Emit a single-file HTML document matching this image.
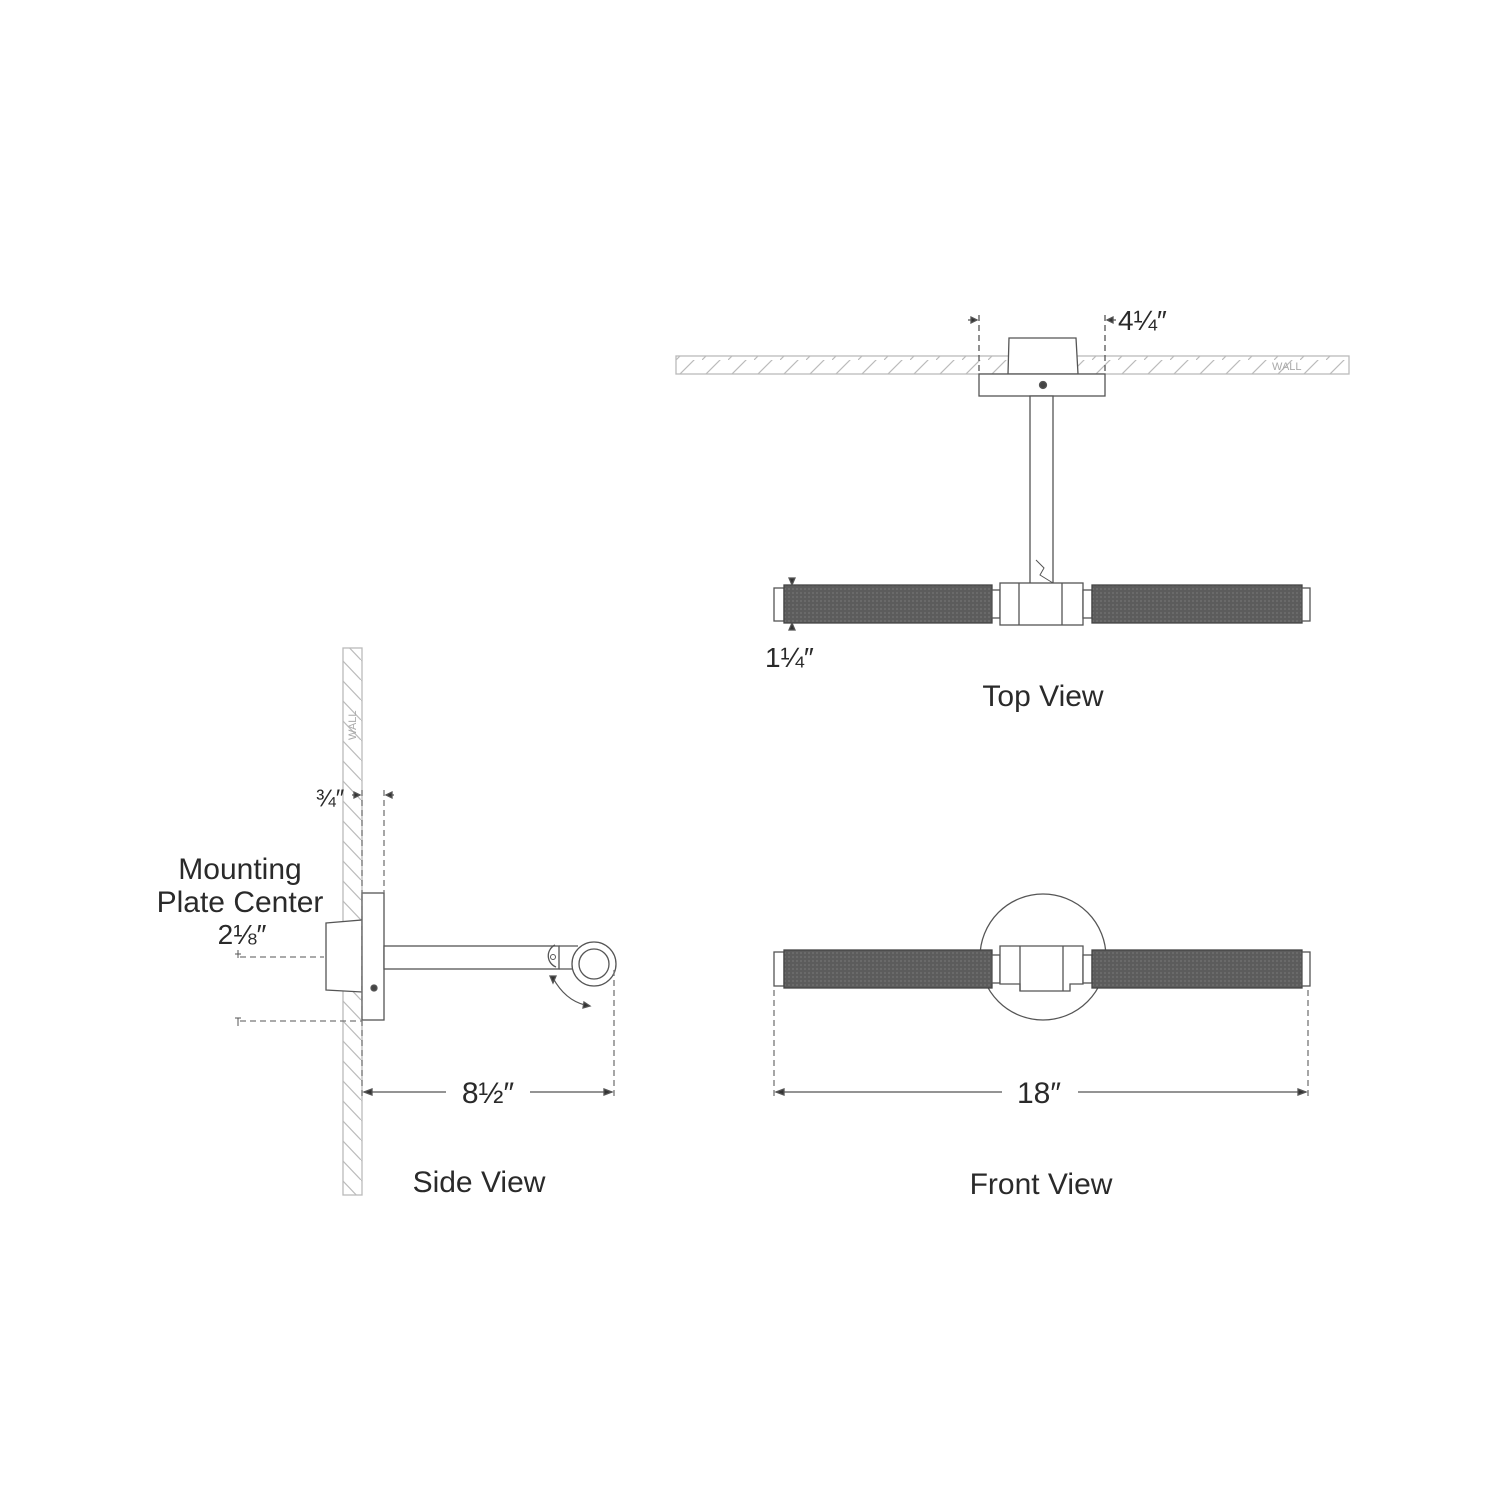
<!DOCTYPE html>
<html><head><meta charset="utf-8"><style>html,body{margin:0;background:#fff}svg{display:block}text{font-family:"Liberation Sans",sans-serif;fill:#2a2a2a}</style></head><body>
<svg width="1500" height="1500" viewBox="0 0 1500 1500" xmlns="http://www.w3.org/2000/svg">
<defs>
<pattern id="h1" width="26" height="18" patternUnits="userSpaceOnUse"><path d="M-2 20 L20 -2" stroke="#bbb" stroke-width="1.2"/></pattern>
<pattern id="h2" width="19" height="20" patternUnits="userSpaceOnUse"><path d="M0 0 L19 20" stroke="#bbb" stroke-width="1.2"/></pattern>
<pattern id="kn" width="4" height="4" patternUnits="userSpaceOnUse"><rect width="4" height="4" fill="#5c5c5c"/><rect width="2" height="2" fill="#6a6a6a"/></pattern>
</defs>
<g stroke="#555" stroke-width="1.3" fill="none">
<!-- TOP VIEW -->
<rect x="676" y="356" width="673" height="18" fill="url(#h1)" stroke="#bbb"/>
<path d="M1008 374 L1009 338 L1076 338 L1078 374 Z" fill="#fff"/>
<rect x="979" y="374" width="126" height="22" fill="#fff"/>
<circle cx="1043" cy="385" r="3.5" fill="#444"/>
<rect x="1030" y="396" width="23" height="189" fill="#fff"/>
<path d="M1036 560 L1044 568 L1040 575 L1053 583" stroke-width="1"/>
<g stroke-dasharray="6,4"><line x1="979" y1="315" x2="979" y2="374"/><line x1="1105" y1="315" x2="1105" y2="374"/></g>
<path d="M968 320 L977 320 M1107 320 L1116 320" />
<path d="M977 320 L971 317 L971 323Z M1107 320 L1113 317 L1113 323Z" fill="#333"/>
<rect x="774" y="588" width="10" height="33" fill="#fff"/>
<rect x="784" y="585" width="208" height="38" fill="url(#kn)" stroke="#444"/>
<rect x="992" y="590" width="8" height="28" fill="#fff"/>
<rect x="1000" y="583" width="83" height="42" fill="#fff"/>
<line x1="1019" y1="583" x2="1019" y2="625"/><line x1="1062" y1="583" x2="1062" y2="625"/>
<rect x="1083" y="590" width="9" height="28" fill="#fff"/>
<rect x="1092" y="585" width="210" height="38" fill="url(#kn)" stroke="#444"/>
<rect x="1302" y="588" width="8" height="33" fill="#fff"/>
<path d="M789 578 L792 585 L795 578Z M789 630 L792 623 L795 630Z" fill="#333"/>
<!-- FRONT VIEW -->
<circle cx="1043" cy="957" r="63" fill="#fff"/>
<rect x="774" y="952" width="10" height="34" fill="#fff"/>
<rect x="784" y="950" width="208" height="38" fill="url(#kn)" stroke="#444"/>
<rect x="992" y="955" width="8" height="28" fill="#fff"/>
<path d="M1000 946 L1083 946 L1083 984 L1070 984 L1070 991 L1020 991 L1020 984 L1000 984 Z" fill="#fff"/>
<line x1="1020" y1="946" x2="1020" y2="991"/><line x1="1063" y1="946" x2="1063" y2="991"/>
<rect x="1083" y="955" width="9" height="28" fill="#fff"/>
<rect x="1092" y="950" width="210" height="38" fill="url(#kn)" stroke="#444"/>
<rect x="1302" y="952" width="8" height="34" fill="#fff"/>
<g stroke-dasharray="6,4" stroke="#777"><line x1="774" y1="990" x2="774" y2="1097"/><line x1="1308" y1="990" x2="1308" y2="1097"/></g>
<line x1="776" y1="1092" x2="1002" y2="1092"/><line x1="1078" y1="1092" x2="1306" y2="1092"/>
<path d="M776 1092 L784 1089 L784 1095Z M1306 1092 L1298 1089 L1298 1095Z" fill="#333"/>
<!-- SIDE VIEW -->
<rect x="343" y="648" width="19" height="547" fill="url(#h2)" stroke="#bbb"/>
<path d="M326 923 L362 920 L362 992 L326 990 Z" fill="#fff"/>
<rect x="362" y="893" width="22" height="127" fill="#fff"/>
<circle cx="374" cy="988" r="3" fill="#444"/>
<rect x="384" y="946" width="175" height="23" fill="#fff"/>
<path d="M559 946 L578 946 M559 969 L578 969"/>
<path d="M555 945 A12 12 0 0 0 556 967" />
<circle cx="553" cy="957" r="2.5" stroke-width="1"/>
<circle cx="594" cy="964" r="22" fill="#fff"/>
<circle cx="594" cy="964" r="15"/>
<path d="M553 978 Q565 1000 585 1005" stroke-width="1.2"/>
<path d="M550 976 L556 976 L553 983Z M584 1002 L590 1006 L583 1008Z" fill="#333"/>
<g stroke-dasharray="6,4" stroke="#777">
<line x1="362" y1="790" x2="362" y2="1097"/>
<line x1="384" y1="790" x2="384" y2="893"/>
<line x1="614" y1="970" x2="614" y2="1097"/>
<line x1="240" y1="957" x2="324" y2="957"/>
<line x1="240" y1="1021" x2="362" y2="1021"/>
</g>
<path d="M352 795 L360 795 M386 795 L394 795"/>
<path d="M360 795 L354 792 L354 798Z M386 795 L392 792 L392 798Z" fill="#333"/>
<path d="M235 954 L241 954 M235 1018 L241 1018 M238 950 L238 958 M238 1018 L238 1026" stroke-width="1"/>
<line x1="364" y1="1092" x2="446" y2="1092"/><line x1="530" y1="1092" x2="612" y2="1092"/>
<path d="M364 1092 L372 1089 L372 1095Z M612 1092 L604 1089 L604 1095Z" fill="#333"/>
</g>
<text x="1272" y="370" font-size="11" style="fill:#aaa">WALL</text>
<text x="356" y="740" font-size="11" style="fill:#aaa" transform="rotate(-90 356 740)">WALL</text>
<text x="1118" y="330" font-size="28">4¼″</text>
<text x="765" y="667" font-size="28">1¼″</text>
<text x="1043" y="706" font-size="30" text-anchor="middle">Top View</text>
<text x="1039" y="1103" font-size="30" text-anchor="middle">18″</text>
<text x="1041" y="1194" font-size="30" text-anchor="middle">Front View</text>
<text x="488" y="1103" font-size="30" text-anchor="middle">8½″</text>
<text x="479" y="1192" font-size="30" text-anchor="middle">Side View</text>
<text x="330" y="806" font-size="24" text-anchor="middle">¾″</text>
<text x="240" y="879" font-size="30" text-anchor="middle">Mounting</text>
<text x="240" y="912" font-size="30" text-anchor="middle">Plate Center</text>
<text x="242" y="944" font-size="28" text-anchor="middle">2⅛″</text>
</svg>
</body></html>
